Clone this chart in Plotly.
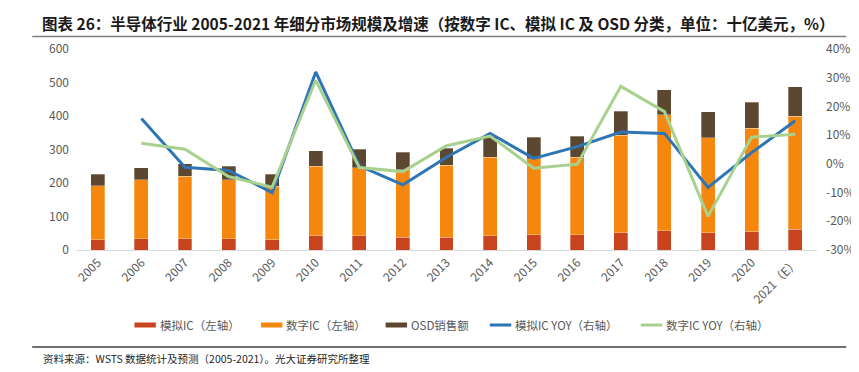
import plotly.graph_objects as go

years = ["2005", "2006", "2007", "2008", "2009", "2010", "2011", "2012", "2013",
         "2014", "2015", "2016", "2017", "2018", "2019", "2020", "2021（E）"]
analog_ic = [31, 34, 34, 34, 31, 43, 43, 38, 38, 43, 46, 45, 51, 58, 51, 55, 62]
digital_ic = [161, 176, 186, 176, 159, 207, 203, 201, 215, 234, 227, 232, 291, 346, 284, 308, 337]
osd = [34, 36, 37, 40, 36, 47, 55, 53, 51, 59, 63, 62, 72, 74, 78, 78, 89]
analog_yoy = [None, 15.8, -1.2, -2.3, -10.0, 32.0, -0.7, -7.3, 2.3, 10.6, 1.9, 6.0,
              11.1, 10.6, -8.2, 3.9, 15.0]
digital_yoy = [None, 7.2, 5.1, -4.4, -8.1, 29.1, -1.3, -2.7, 6.3, 9.7, -1.5, -0.1,
               27.0, 18.2, -18.3, 9.3, 10.3]
left_ticks = [0, 100, 200, 300, 400, 500, 600]
right_ticks = [-30, -20, -10, 0, 10, 20, 30, 40]

series_names = ["模拟IC（左轴）", "数字IC（左轴）", "OSD销售额", "模拟IC YOY（右轴）", "数字IC YOY（右轴）"]
colors = ["#C8441E", "#F5870E", "#5C4731", "#2E75B6", "#A9D18E"]

FONT = "Noto Sans CJK SC"
W, H = 859, 372
L, R, T, B = 68, 30, 41, 130
pw, ph = W - L - R, H - T - B


def px(x):
    return (x - L) / pw


def py(y):
    return (H - B - y) / ph


fig = go.Figure()
for vals, name, col in zip([analog_ic, digital_ic, osd], series_names[:3], colors[:3]):
    fig.add_trace(go.Bar(x=years, y=vals, name=name, marker_color=col,
                         marker_line=dict(color="rgba(255,255,255,0.5)", width=0.6),
                         showlegend=False))
for vals, name, col in zip([analog_yoy, digital_yoy], series_names[3:], colors[3:]):
    fig.add_trace(go.Scatter(x=years, y=vals, name=name, mode="lines", yaxis="y2",
                             line=dict(color=col, width=3), showlegend=False))

tick_font = dict(family=FONT, size=12, color="#595959")
fig.update_layout(
    width=W, height=H,
    margin=dict(l=L, r=R, t=T, b=B),
    paper_bgcolor="white", plot_bgcolor="white",
    barmode="stack", bargap=0.68,
    font=dict(family=FONT, color="#595959"),
    xaxis=dict(type="category", tickangle=-45, tickfont=tick_font, showgrid=False,
               showline=True, linecolor="#D9D9D9", linewidth=1, ticks="", zeroline=False),
    yaxis=dict(range=[0, 600], tickvals=left_ticks, tickfont=tick_font, showgrid=False,
               zeroline=False, ticks="", showline=False, ticklabelstandoff=6),
    yaxis2=dict(range=[-30, 40], tickvals=right_ticks,
                ticktext=[f"{v}%" for v in right_ticks], overlaying="y", side="right",
                tickfont=tick_font, showgrid=False, zeroline=False, ticks="",
                showline=False, ticklabelstandoff=8),
    showlegend=False,
)

# title and separator lines
fig.add_annotation(text="<b>图表 26：半导体行业 2005-2021 年细分市场规模及增速（按数字 IC、模拟 IC 及 OSD 分类，单位：十亿美元，%）</b>",
                   xref="paper", yref="paper", x=px(31), y=py(15), xanchor="left", yanchor="middle",
                   showarrow=False, font=dict(family=FONT, size=15.5, color="#1a1a1a"))
fig.add_shape(type="line", xref="paper", yref="paper", x0=px(23), x1=px(859),
              y0=py(28.5), y1=py(28.5), line=dict(color="#7f7f7f", width=1.5))
fig.add_shape(type="line", xref="paper", yref="paper", x0=px(23), x1=px(859),
              y0=py(339), y1=py(339), line=dict(color="#404040", width=1.5))
fig.add_annotation(text="资料来源：WSTS 数据统计及预测（2005-2021）。光大证券研究所整理",
                   xref="paper", yref="paper", x=px(32), y=py(350), xanchor="left", yanchor="middle",
                   showarrow=False, font=dict(family=FONT, size=10.5, color="#262626"))

# legend
legend_x = [128, 258, 386, 493, 648]
for x0, name, col in zip(legend_x, series_names, colors):
    fig.add_shape(type="line", xref="paper", yref="paper", x0=px(x0), x1=px(x0 + 22),
                  y0=py(317), y1=py(317), line=dict(color=col, width=5 if x0 < 450 else 3))
    fig.add_annotation(text=name, xref="paper", yref="paper", x=px(x0 + 24), y=py(317),
                       xanchor="left", yanchor="middle", showarrow=False,
                       font=dict(family=FONT, size=11.5, color="#595959"))

fig.write_html("out.html")
